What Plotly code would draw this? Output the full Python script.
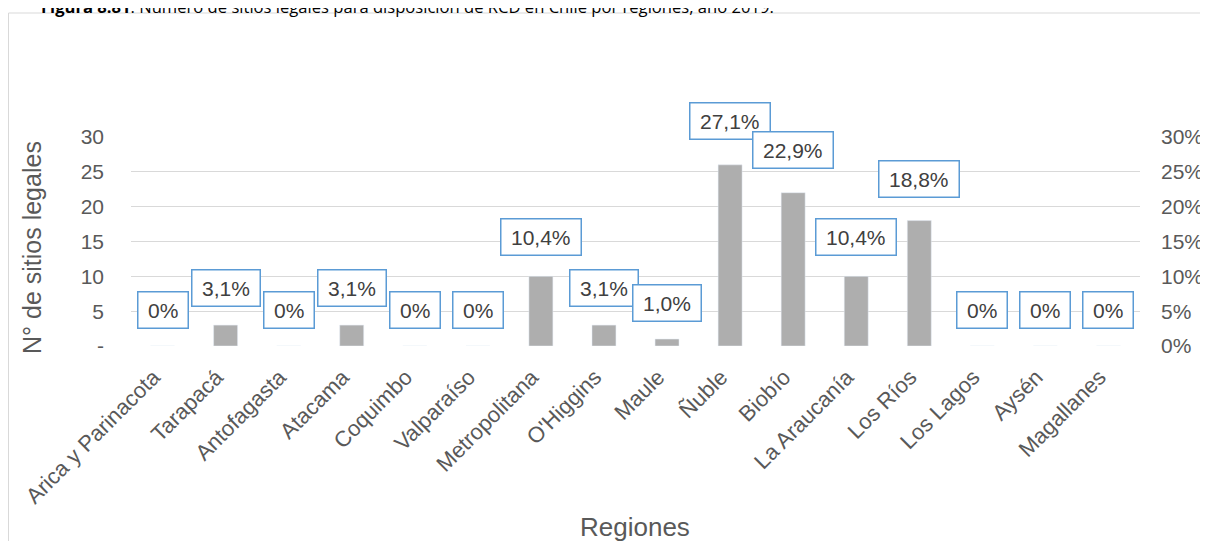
import plotly.graph_objects as go

regiones = ["Arica y Parinacota", "Tarapacá", "Antofagasta", "Atacama", "Coquimbo",
            "Valparaíso", "Metropolitana", "O'Higgins", "Maule", "Ñuble", "Biobío",
            "La Araucanía", "Los Ríos", "Los Lagos", "Aysén", "Magallanes"]
sitios = [0, 3, 0, 3, 0, 0, 10, 3, 1, 26, 22, 10, 18, 0, 0, 0]
pct_labels = ["0%", "3,1%", "0%", "3,1%", "0%", "0%", "10,4%", "3,1%", "1,0%",
              "27,1%", "22,9%", "10,4%", "18,8%", "0%", "0%", "0%"]

left_ticks = [0, 5, 10, 15, 20, 25, 30]
left_ticktext = ["-", "5", "10", "15", "20", "25", "30"]

total = sum(sitios)
porcentajes = [s / total for s in sitios]

FONT = "Liberation Sans, Arial, sans-serif"
GREY = "#595959"

# page offset of the plot div (body margin), everything below is in page pixels
OFF = 8
W, H = 1208 - OFF, 541 - OFF
X0, X1, Y0, Y1 = 131, 1140, 137, 346  # plot area in page pixels
L, R, T, B = X0 - OFF, W - (X1 - OFF), Y0 - OFF, H - (Y1 - OFF)


def px(x):
    return (x - X0) / (X1 - X0)


def py(y):
    return (Y1 - y) / (Y1 - Y0)


def text_w(t, size):
    widths = {",": 0.278, "%": 0.889}
    return size * sum(widths.get(c, 0.556) for c in t)


fig = go.Figure()
fig.add_trace(go.Bar(x=regiones, y=sitios, marker_color="#AEAEAE", showlegend=False))
# invisible series on the secondary axis, carries the percentage labels
fig.add_trace(go.Scatter(x=regiones, y=porcentajes, yaxis="y2", mode="lines",
                         line=dict(width=0), showlegend=False, hoverinfo="skip"))

annotations = []
for reg, p, t in zip(regiones, porcentajes, pct_labels):
    annotations.append(dict(x=reg, y=p, xref="x", yref="y2", text=t, showarrow=False,
                            yshift=36, font=dict(family=FONT, size=21, color="#404040"),
                            bgcolor="white", bordercolor="#5B9BD5", borderwidth=1.5,
                            borderpad=5, width=text_w(t, 21) + 9, height=25))

annotations += [
    dict(x=px(32), y=py(248), xref="paper", yref="paper", xanchor="center",
         yanchor="middle", text="N° de sitios legales", textangle=-90, showarrow=False,
         font=dict(family=FONT, size=25, color=GREY)),
    dict(x=px(635), y=py(527), xref="paper", yref="paper", xanchor="center",
         yanchor="middle", text="Regiones", showarrow=False,
         font=dict(family=FONT, size=26, color=GREY)),
    dict(x=px(39), y=py(6), xref="paper", yref="paper", xanchor="left", yanchor="middle",
         text="<b>Figura 8.81</b>: Número de sitios legales para disposición de RCD en Chile por regiones, año 2019.",
         showarrow=False, font=dict(family="Open Sans, sans-serif", size=16.6, color="black")),
]

shapes = [dict(type="rect", xref="paper", yref="paper", x0=px(8.5), x1=px(1230),
               y0=py(580), y1=py(13), line=dict(color="#D9D9D9", width=1),
               fillcolor="rgba(0,0,0,0)", layer="below")]

fig.update_layout(
    width=W, height=H,
    margin=dict(l=L, r=R, t=T, b=B, autoexpand=False),
    paper_bgcolor="white", plot_bgcolor="white",
    bargap=0.62,
    annotations=annotations,
    shapes=shapes,
    xaxis=dict(range=[-0.5, len(regiones) - 0.5], tickangle=-45,
               tickfont=dict(family=FONT, size=22, color=GREY),
               showgrid=False, showline=False, ticks="", automargin=False,
               ticklabelstandoff=13, ticklabelshift=-9),
    yaxis=dict(range=[0, 30], tickvals=left_ticks, ticktext=left_ticktext,
               tickfont=dict(family=FONT, size=21, color=GREY), gridcolor="#D9D9D9",
               zeroline=False, showline=False, ticklabelstandoff=26, automargin=False),
    yaxis2=dict(range=[0, 0.30], overlaying="y", side="right", tickformat=".0%",
                dtick=0.05, tickfont=dict(family=FONT, size=21, color=GREY),
                showgrid=False, zeroline=False, showline=False, ticklabelstandoff=20,
                automargin=False),
)

fig.write_html("out.html")
